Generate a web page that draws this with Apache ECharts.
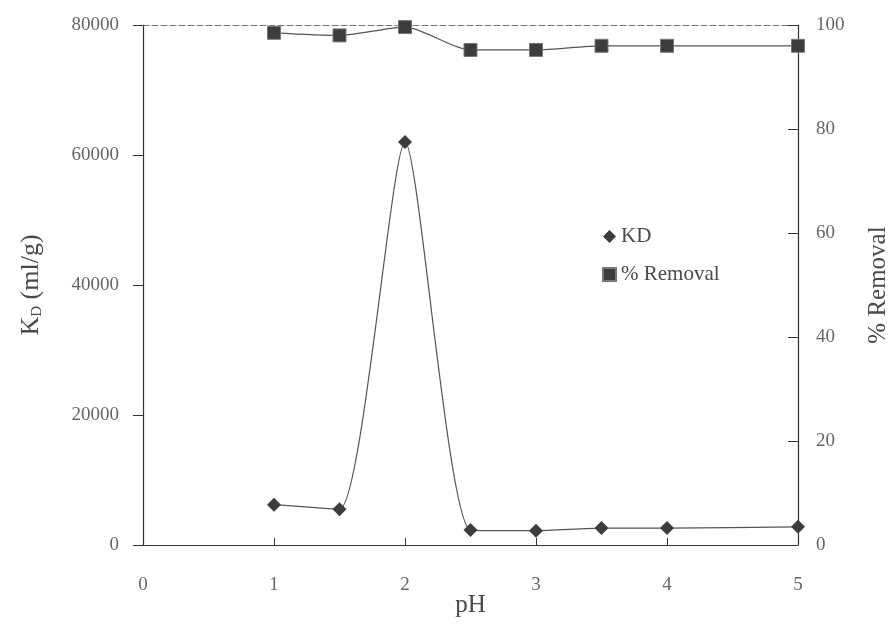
<!DOCTYPE html>
<html>
<head>
<meta charset="utf-8">
<script src="https://cdn.jsdelivr.net/npm/echarts@6/dist/echarts.min.js"></script>
<style>
  html, body { margin: 0; padding: 0; background: #fff; }
  #main { width: 891px; height: 625px; }
</style>
</head>
<body>
<div id="main"></div>
<script>
// pH values and the two measured series
var ph = [1, 1.5, 2, 2.5, 3, 3.5, 4, 5];
var kd = [6200, 5500, 62000, 2300, 2200, 2600, 2600, 2800];
var removal = [98.5, 98, 99.6, 95.2, 95.2, 96, 96, 96];

var ink = '#4a4a4a';
var serif = '"Liberation Serif", "DejaVu Serif", serif';

function pairs(xs, ys) {
  return xs.map(function (x, i) { return [x, ys[i]]; });
}

var chart = echarts.init(document.getElementById('main'));

chart.setOption({
  backgroundColor: '#fff',
  animation: false,
  textStyle: { fontFamily: serif, color: ink },
  grid: { left: 143, right: 93, top: 25, bottom: 80, outerBoundsMode: 'none', containLabel: false },
  legend: {
    orient: 'vertical',
    left: 597,
    top: 221,
    itemGap: 17,
    itemWidth: 13,
    itemHeight: 13,
    textStyle: { fontFamily: serif, fontSize: 21, color: ink },
    data: [
      { name: 'KD', icon: 'diamond' },
      { name: '% Removal', icon: 'rect' }
    ]
  },
  xAxis: [{
    type: 'value',
    min: 0, max: 5, interval: 1,
    name: 'pH',
    nameLocation: 'middle',
    nameGap: 48,
    nameMoveOverlap: false,
    nameTextStyle: { fontSize: 25, color: ink, fontFamily: serif },
    axisLine: { onZero: false, lineStyle: { color: '#333', width: 1.2 } },
    axisTick: { inside: true, length: 7, lineStyle: { color: '#333' } },
    axisLabel: { fontSize: 19, color: '#666', margin: 31, fontFamily: serif },
    splitLine: { show: false }
  }, {
    // dashed frame line along the top of the plot
    type: 'value',
    position: 'top',
    min: 0, max: 5,
    axisLine: { show: true, onZero: false, lineStyle: { color: '#777', type: [6, 3], width: 1 } },
    axisTick: { show: false },
    axisLabel: { show: false },
    splitLine: { show: false }
  }],
  yAxis: [{
    type: 'value',
    min: 0, max: 80000, interval: 20000,
    name: '{a|K}{b|D}{a| (ml/g)}',
    nameLocation: 'middle',
    nameGap: 98,
    nameMoveOverlap: false,
    nameTextStyle: {
      color: ink,
      rich: {
        a: { fontSize: 26, fontFamily: serif, color: ink },
        b: { fontSize: 15, fontFamily: serif, color: ink, padding: [12, 0, 0, 0] }
      }
    },
    axisLine: { show: true, onZero: false, lineStyle: { color: '#333', width: 1.2 } },
    axisTick: { length: 10, lineStyle: { color: '#333' } },
    axisLabel: {
      fontSize: 19, color: '#666', margin: 24, fontFamily: serif,
      formatter: function (v) { return String(v); }
    },
    splitLine: { show: false }
  }, {
    type: 'value',
    position: 'right',
    min: 0, max: 100, interval: 20,
    name: '% Removal',
    nameLocation: 'middle',
    nameGap: 68,
    nameMoveOverlap: false,
    nameTextStyle: { fontSize: 25, color: ink, fontFamily: serif },
    axisLine: { show: true, onZero: false, lineStyle: { color: '#333', width: 1.2 } },
    axisTick: { inside: true, length: 10, lineStyle: { color: '#333' } },
    axisLabel: { fontSize: 19, color: '#666', margin: 18, fontFamily: serif },
    splitLine: { show: false }
  }],
  series: [{
    name: 'KD',
    type: 'line',
    yAxisIndex: 0,
    data: pairs(ph, kd),
    smooth: 0.2,
    symbol: 'diamond',
    symbolSize: 14,
    itemStyle: { color: '#3c3c3c' },
    lineStyle: { color: '#555', width: 1.2 },
    z: 3
  }, {
    name: '% Removal',
    type: 'line',
    yAxisIndex: 1,
    data: pairs(ph, removal),
    smooth: 0.25,
    symbol: 'rect',
    symbolSize: 13,
    itemStyle: { color: '#3c3c3c', borderColor: '#777', borderWidth: 1 },
    lineStyle: { color: '#555', width: 1.2 },
    z: 3
  }]
});
</script>
</body>
</html>
